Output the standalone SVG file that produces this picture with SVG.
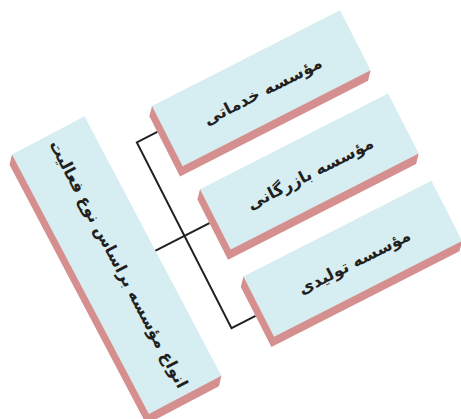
<svg xmlns="http://www.w3.org/2000/svg" width="461" height="419" viewBox="0 0 461 419">
<style>
.face{fill:#d6eef1}
.side{fill:#d68f8f}
.lbl{font-family:"DejaVu Sans",sans-serif;font-weight:bold;font-size:16.5px;fill:#231f20;text-anchor:middle;dominant-baseline:central}
.conn{fill:none;stroke:#231f20;stroke-width:2}
</style>
<rect width="461" height="419" fill="#ffffff"/>
<g transform="translate(152,106) rotate(-27)">
  <g id="connectors">
    <polyline class="conn" points="-7,25.5 -30,25.5 -30,234 -3,234"/>
    <line class="conn" x1="-63" y1="130.5" x2="-2" y2="130.5"/>
  </g>
  <g id="node-main" transform="translate(-103.7,125.75) rotate(-0.8)">
    <polygon class="side" points="-41,-146.75 -48,-138.75 -48,154.75 34,154.75 41,146.75"/>
    <rect class="face" x="-41" y="-146.75" width="82" height="293.5"/>
    <text class="lbl" transform="translate(2,0) rotate(90)" x="0" y="0">انواع مؤسسه براساس نوع فعالیت</text>
  </g>
  <g id="node-service">
    <polygon class="side" points="0,0 -7,8 -7,75.5 204,75.5 211,67.5"/>
    <rect class="face" x="0" y="0" width="211" height="67.5"/>
    <text class="lbl" x="105.5" y="37">مؤسسه خدماتی</text>
  </g>
  <g id="node-trade">
    <polygon class="side" points="5,96 -2,104 -2,171.5 209,171.5 216,163.5"/>
    <rect class="face" x="5" y="96" width="211" height="67.5"/>
    <text class="lbl" x="110.5" y="132">مؤسسه بازرگانی</text>
  </g>
  <g id="node-production">
    <polygon class="side" points="4,193.5 -3,201.5 -3,269 208,269 215,261"/>
    <rect class="face" x="4" y="193.5" width="211" height="67.5"/>
    <text class="lbl" x="109.5" y="231">مؤسسه تولیدی</text>
  </g>
</g>
</svg>
